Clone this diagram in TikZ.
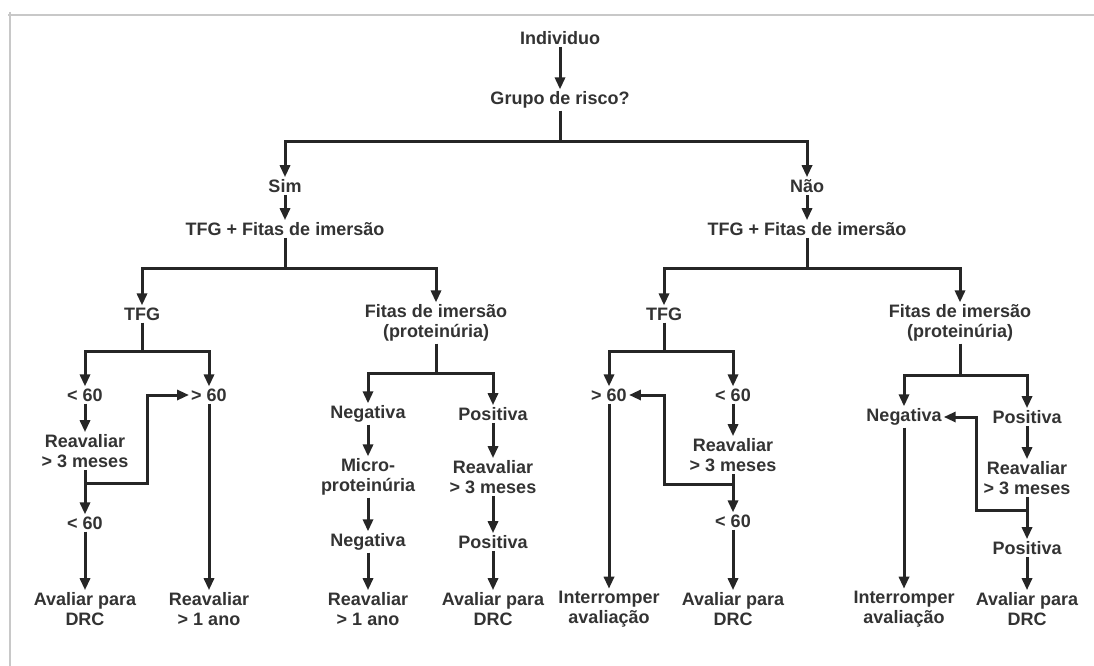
\documentclass[tikz,border=0pt]{standalone}
\usepackage{fontspec}
\setmainfont{Liberation Sans}
\usetikzlibrary{arrows.meta}
\definecolor{txt}{HTML}{333333}
\definecolor{lin}{HTML}{262626}
\definecolor{bord}{HTML}{C8C8C8}
\begin{document}
\begin{tikzpicture}[x=1pt,y=-1pt,
  lbl/.style={font=\bfseries\fontsize{18}{20}\selectfont, text=txt, align=center, inner sep=2pt},
  ln/.style={draw=lin, line width=3pt},
  arr/.style={ln, -{Triangle[length=12pt,width=10pt]}},
  frame/.style={draw=bord, line width=2pt}]
\useasboundingbox (0,0) rectangle (1094,666);
\fill[white] (0,0) rectangle (1094,666);
% frame
\draw[frame] (8,15) -- (1094,15);
\draw[frame] (10,12) -- (10,666);

% top
\node[lbl] (ind) at (560,38) {Individuo};
\node[lbl] (grp) at (560,100) {Grupo de risco?};
\node[lbl] (sim) at (285,186) {Sim};
\node[lbl] (nao) at (807,186) {Não};
\node[lbl] (tf1) at (285,229) {TFG + Fitas de imersão};
\node[lbl] (tf2) at (807,229) {TFG + Fitas de imersão};

% level 2
\node[lbl] (tfgL) at (142,314) {TFG};
\node[lbl] (fitL) at (436,323) {Fitas de imersão\\(proteinúria)};
\node[lbl] (tfgR) at (664,314) {TFG};
\node[lbl] (fitR) at (960,323) {Fitas de imersão\\(proteinúria)};

% left TFG branch
\node[lbl] (lt1) at (85,395) {< 60};
\node[lbl] (gt1) at (209,395) {> 60};
\node[lbl] (rv1) at (85,451) {Reavaliar\\> 3 meses};
\node[lbl] (lt2) at (85,523) {< 60};
\node[lbl] (av1) at (85,609) {Avaliar para\\DRC};
\node[lbl] (ra1) at (209,609) {Reavaliar\\> 1 ano};

% left Fitas branch
\node[lbl] (ng1) at (368,414) {Negativa};
\node[lbl] (ps1) at (493,414) {Positiva};
\node[lbl] (mc1) at (368,477) {Micro-\\proteinúria};
\node[lbl] (rv2) at (493,477) {Reavaliar\\> 3 meses};
\node[lbl] (ng2) at (368,542) {Negativa};
\node[lbl] (ps2) at (493,542) {Positiva};
\node[lbl] (ra2) at (368,609) {Reavaliar\\> 1 ano};
\node[lbl] (av2) at (493,609) {Avaliar para\\DRC};

% right TFG branch
\node[lbl] (gt3) at (609,395) {> 60};
\node[lbl] (lt3) at (733,395) {< 60};
\node[lbl] (rv3) at (733,455) {Reavaliar\\> 3 meses};
\node[lbl] (lt4) at (733,521) {< 60};
\node[lbl] (in3) at (609,609) {Interromper\\avaliação};
\node[lbl] (av3) at (733,609) {Avaliar para\\DRC};

% right Fitas branch
\node[lbl] (ng4) at (904,417) {Negativa};
\node[lbl] (ps4) at (1027,417) {Positiva};
\node[lbl] (rv4) at (1027,478) {Reavaliar\\> 3 meses};
\node[lbl] (ps5) at (1027,548) {Positiva};
\node[lbl] (in4) at (904,609) {Interromper\\avaliação};
\node[lbl] (av4) at (1027,609) {Avaliar para\\DRC};

% split coordinates
\coordinate (s0) at (560,141);
\coordinate (s1) at (285,268);
\coordinate (s2) at (807,268);
\coordinate (s3) at (142,351);
\coordinate (s4) at (436,373);
\coordinate (s5) at (664,351);
\coordinate (s6) at (960,375);
\coordinate (c1) at (85,483);
\coordinate (k1) at (147,483);
\coordinate (c2) at (733,484);
\coordinate (k2) at (664,484);
\coordinate (c3) at (1027,510);
\coordinate (k3) at (976,510);

% connectors top
\draw[arr] (ind) -- (grp);
\draw[ln] (grp.south) -- (s0);
\draw[arr] (s0) -| (sim.north);
\draw[arr] (s0) -| (nao.north);
\draw[arr] (sim) -- (tf1);
\draw[arr] (nao) -- (tf2);
\draw[ln] (tf1.south) -- (s1);
\draw[arr] (s1) -| (tfgL.north);
\draw[arr] (s1) -| (fitL.north);
\draw[ln] (tf2.south) -- (s2);
\draw[arr] (s2) -| (tfgR.north);
\draw[arr] (s2) -| (fitR.north);

% left TFG
\draw[ln] (tfgL.south) -- (s3);
\draw[arr] (s3) -| (lt1.north);
\draw[arr] (s3) -| (gt1.north);
\draw[arr] (lt1) -- (rv1);
\draw[arr] (rv1) -- (lt2);
\draw[arr] (c1) -- (k1) |- (gt1.west);
\draw[arr] (lt2) -- (av1);
\draw[arr] (gt1) -- (ra1);

% left Fitas
\draw[ln] (fitL.south) -- (s4);
\draw[arr] (s4) -| (ng1.north);
\draw[arr] (s4) -| (ps1.north);
\draw[arr] (ng1) -- (mc1);
\draw[arr] (mc1) -- (ng2);
\draw[arr] (ng2) -- (ra2);
\draw[arr] (ps1) -- (rv2);
\draw[arr] (rv2) -- (ps2);
\draw[arr] (ps2) -- (av2);

% right TFG
\draw[ln] (tfgR.south) -- (s5);
\draw[arr] (s5) -| (gt3.north);
\draw[arr] (s5) -| (lt3.north);
\draw[arr] (lt3) -- (rv3);
\draw[arr] (rv3) -- (lt4);
\draw[arr] (c2) -- (k2) |- (gt3.east);
\draw[arr] (lt4) -- (av3);
\draw[arr] (gt3) -- (in3);

% right Fitas
\draw[ln] (fitR.south) -- (s6);
\draw[arr] (s6) -| (ng4.north);
\draw[arr] (s6) -| (ps4.north);
\draw[arr] (ps4) -- (rv4);
\draw[arr] (rv4) -- (ps5);
\draw[arr] (c3) -- (k3) |- (ng4.east);
\draw[arr] (ps5) -- (av4);
\draw[arr] (ng4) -- (in4);
\end{tikzpicture}
\end{document}
